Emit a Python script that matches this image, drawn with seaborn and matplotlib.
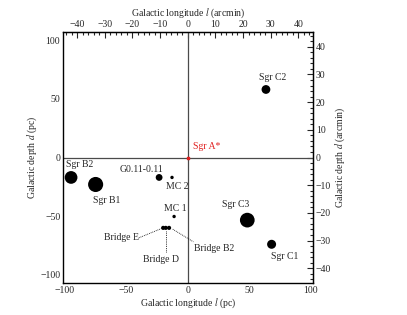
import numpy as np
import pandas as pd
import matplotlib
matplotlib.use("Agg")
import matplotlib.pyplot as plt
import seaborn as sns
from matplotlib.ticker import MultipleLocator

# Source positions (pc) and marker sizes (points^2)
names = ["Sgr B2", "Sgr B1", "G0.11-0.11", "MC 2", "MC 1",
         "Bridge E", "Bridge D", "Bridge B2", "Sgr C3", "Sgr C1", "Sgr C2"]
lon_pc = [-95, -75, -23.3, -12.8, -11.1, -20, -17.9, -15.2, 48.5, 68.3, 63.7]
depth_pc = [-17, -23, -17, -17, -50.3, -60, -60, -60, -53.4, -74, 58]
marker_s = [84, 118, 24, 6, 6, 9, 9, 9, 112, 42, 40]

# label positions (pc)
label_x = [-88.4, -65.6, -38, -8.5, -9.8, -54, -21.7, 21.4, 39.3, 79.1, 69.2]
label_y = [-6, -36.4, -10.2, -25, -43.8, -68.5, -87, -78, -40, -84, 68]

PC_PER_ARCMIN_X = 2.25
PC_PER_ARCMIN_Y = 2.36

df = pd.DataFrame({"name": names, "l": lon_pc, "d": depth_pc})

sns.set_style("white")
plt.rcParams["font.family"] = ["Liberation Serif", "DejaVu Serif"]
plt.rcParams["mathtext.fontset"] = "stix"

fig = plt.figure(figsize=(4.07, 3.15), dpi=100)
ax = fig.add_axes([0.155, 0.1016, 0.614, 0.7968])

ax.axhline(0, color="#4a4a4a", lw=0.9, zorder=1)
ax.axvline(0, color="#4a4a4a", lw=0.9, zorder=1)

sns.scatterplot(data=df, x="l", y="d", size="name",
                sizes=dict(zip(names, marker_s)), color="black",
                edgecolor="none", legend=False, ax=ax, zorder=3)
ax.scatter([0], [0], marker="s", s=3, color="#e02020", zorder=4)
ax.text(4.3, 9.6, "Sgr A*", color="#e02020", fontsize=7,
        ha="left", va="center")

for n, tx, ty in zip(names, label_x, label_y):
    ax.text(tx, ty, n, fontsize=7, ha="center", va="center")

# leader lines for the bridge sources
dot = dict(color="black", lw=0.6, ls=(0, (1, 1.2)))
ax.plot([-39.8, -21.5], [-68.5, -60.6], **dot)
ax.plot([-17.9, -17.9], [-62.5, -81.8], **dot)
ax.plot([-12.2, 4.6], [-61.1, -71.9], **dot)

ax.set_xlim(-101.5, 102)
ax.set_ylim(-107, 107)
ax.set_xlabel("Galactic longitude $l$ (pc)", fontsize=7, labelpad=1)
ax.set_ylabel("Galactic depth $d$ (pc)", fontsize=7, labelpad=1)
ax.xaxis.set_major_locator(MultipleLocator(50))
ax.xaxis.set_minor_locator(MultipleLocator(25))
ax.yaxis.set_major_locator(MultipleLocator(50))
ax.yaxis.set_minor_locator(MultipleLocator(25))
ax.tick_params(which="both", direction="in", labelsize=7, pad=2)
ax.tick_params(which="major", length=4, width=0.8)
ax.tick_params(which="minor", length=2, width=0.8)

top = ax.secondary_xaxis("top", functions=(lambda v: v / PC_PER_ARCMIN_X,
                                           lambda v: v * PC_PER_ARCMIN_X))
top.set_xlabel("Galactic longitude $l$ (arcmin)", fontsize=7, labelpad=3)
top.xaxis.set_major_locator(MultipleLocator(10))
top.xaxis.set_minor_locator(MultipleLocator(2))
top.tick_params(which="both", direction="in", labelsize=7, pad=2)
top.tick_params(which="major", length=4, width=0.8)
top.tick_params(which="minor", length=2, width=0.8)

right = ax.secondary_yaxis("right", functions=(lambda v: v / PC_PER_ARCMIN_Y,
                                               lambda v: v * PC_PER_ARCMIN_Y))
right.set_ylabel("Galactic depth $d$ (arcmin)", fontsize=7, labelpad=2)
right.yaxis.set_major_locator(MultipleLocator(10))
right.yaxis.set_minor_locator(MultipleLocator(2))
right.tick_params(which="both", direction="in", labelsize=7, pad=2)
right.tick_params(which="major", length=4, width=0.8)
right.tick_params(which="minor", length=2, width=0.8)

for sp in ax.spines.values():
    sp.set_color("black")
    sp.set_linewidth(1)

fig.savefig("out.png", dpi=100)
